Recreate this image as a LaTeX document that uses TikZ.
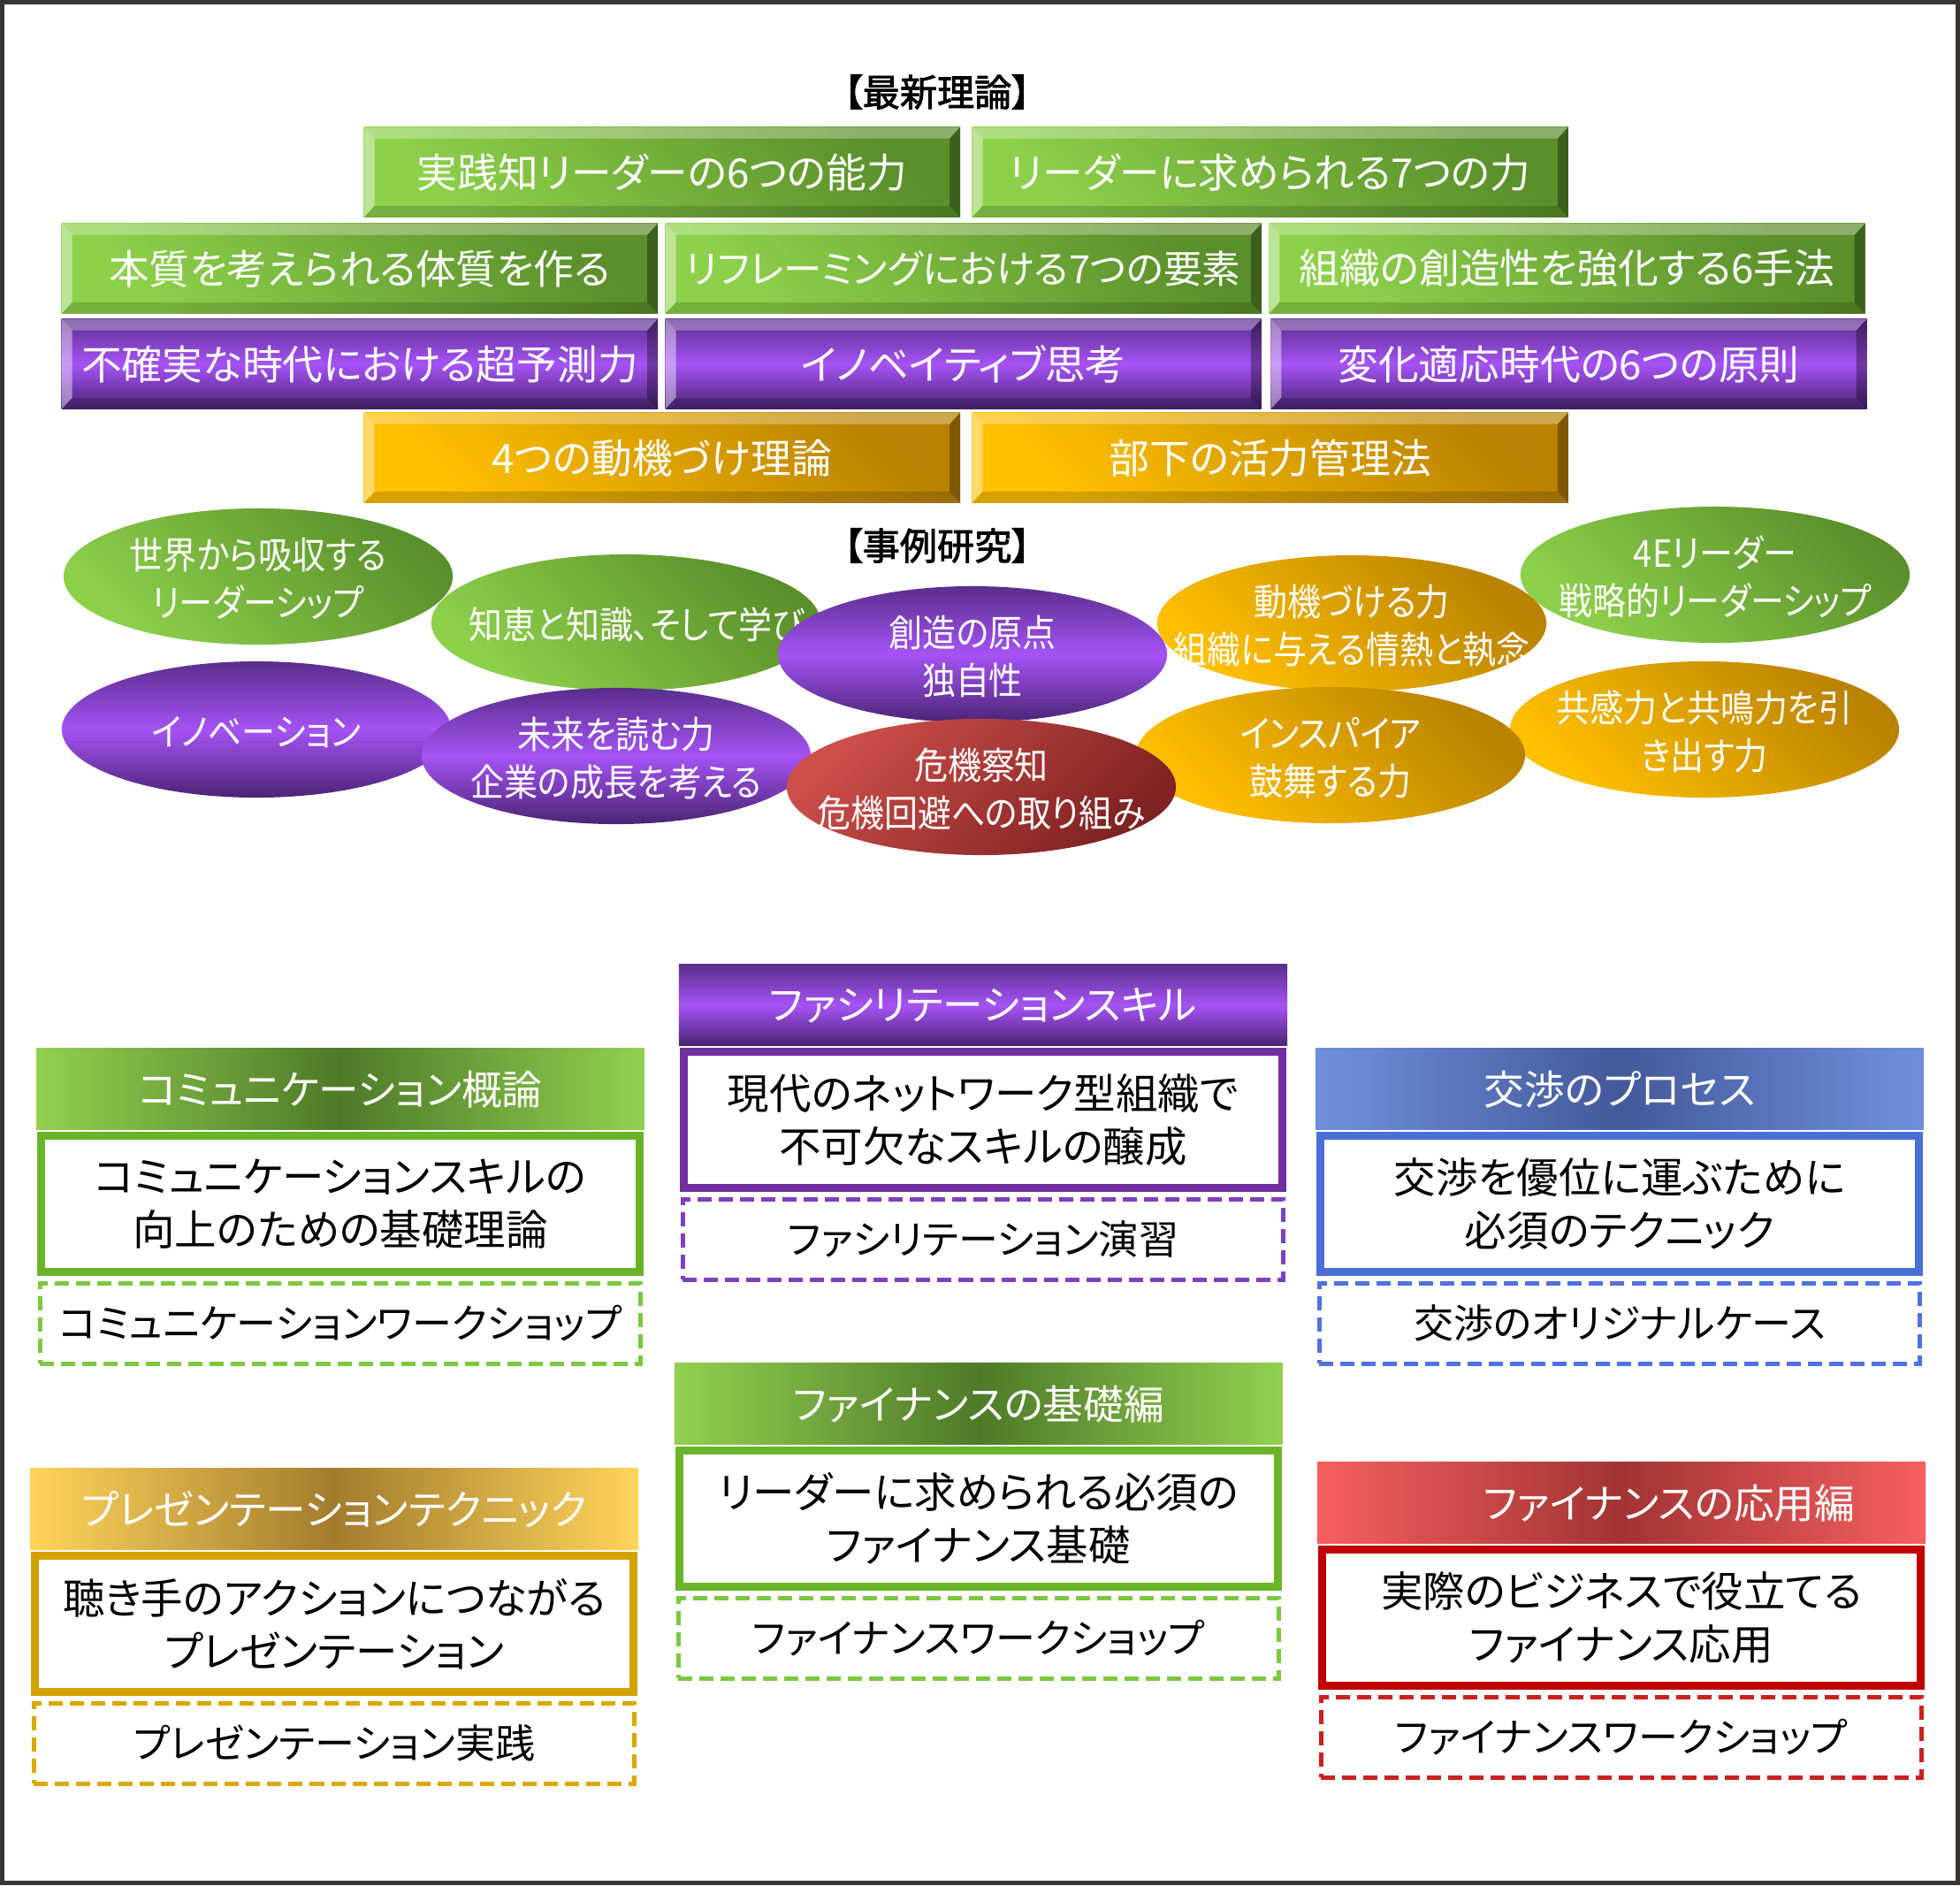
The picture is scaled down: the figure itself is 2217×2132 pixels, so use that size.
\documentclass[tikz,border=0pt]{standalone}
\usepackage{fontspec}
\setmainfont{Noto Sans CJK JP}[RawFeature=+palt]
\newfontfamily\jpbold{Noto Sans CJK JP}[RawFeature=+palt,FakeBold=2]
\newfontfamily\jpnarrow{Noto Sans CJK JP}[RawFeature=+palt,FakeStretch=0.9]
\usetikzlibrary{positioning,shapes.geometric}
\definecolor{grnlt}{HTML}{8DD14B}
\definecolor{grndk}{HTML}{5B8F2B}
\definecolor{purdk}{HTML}{5A2E8C}
\definecolor{purlt}{HTML}{A653F5}
\definecolor{purdkb}{HTML}{4A2474}
\definecolor{goldlt}{HTML}{FFC000}
\definecolor{golddk}{HTML}{B98200}
\definecolor{redlt}{HTML}{CD4F4A}
\definecolor{reddk}{HTML}{7E2222}
\definecolor{hgrnlt}{HTML}{92D050}
\definecolor{hgrndk}{HTML}{4F7A28}
\definecolor{hbluelt}{HTML}{7090DE}
\definecolor{hbluedk}{HTML}{44599A}
\definecolor{hgoldlt}{HTML}{FFD45A}
\definecolor{hgolddk}{HTML}{A27C2E}
\definecolor{hredlt}{HTML}{F65F5F}
\definecolor{hreddk}{HTML}{A23434}
\definecolor{cgreen}{HTML}{6AB42A}
\definecolor{cgreend}{HTML}{7CC841}
\definecolor{cpurple}{HTML}{7030A0}
\definecolor{cpurpled}{HTML}{7F3FBF}
\definecolor{cblue}{HTML}{4A70D8}
\definecolor{cblued}{HTML}{4F72E0}
\definecolor{cgold}{HTML}{D4A100}
\definecolor{cgoldd}{HTML}{DAA800}
\definecolor{cred}{HTML}{C00000}
\definecolor{credd}{HTML}{CC1F1F}
\definecolor{framegray}{HTML}{393734}

\newcommand\bevedge{%
  \coordinate (bNW) at (path picture bounding box.north west);
  \coordinate (bNE) at (path picture bounding box.north east);
  \coordinate (bSW) at (path picture bounding box.south west);
  \coordinate (bSE) at (path picture bounding box.south east);
  \fill[white,opacity=.30] (bNW) -- (bNE) -- ([shift={(-.12cm,-.13cm)}]bNE) -- ([shift={(.12cm,-.13cm)}]bNW) -- cycle;
  \fill[white,opacity=.42] (bNW) -- ([shift={(.12cm,-.13cm)}]bNW) -- ([shift={(.12cm,.13cm)}]bSW) -- (bSW) -- cycle;
  \fill[black,opacity=.32] (bNE) -- (bSE) -- ([shift={(-.12cm,.13cm)}]bSE) -- ([shift={(-.12cm,-.13cm)}]bNE) -- cycle;
  \fill[black,opacity=.16] (bSW) -- ([shift={(.12cm,.13cm)}]bSW) -- ([shift={(-.12cm,.13cm)}]bSE) -- (bSE) -- cycle;
}
% text of an oval, kept out of the shape's size
\newcommand\ovtext[1]{\makebox[0pt]{\raisebox{-0.08cm}[\height][\depth]{\begin{tabular}{@{}c@{}}#1\end{tabular}}}}

\begin{document}
\begin{tikzpicture}[x=0.01cm, y=-0.01cm,
  bev/.style={minimum width=6.74cm, minimum height=1.02cm, inner sep=0pt, anchor=north west, text=white, font=\fontsize{13}{15}\selectfont, path picture={\bevedge}},
  bgreen/.style={bev, top color=grndk, bottom color=grnlt, shading angle=-45},
  bpurple/.style={bev, top color=purdk, bottom color=purdkb, middle color=purlt},
  bgold/.style={bev, top color=golddk, bottom color=goldlt, shading angle=-45},
  oval/.style={ellipse, minimum width=4.4cm, minimum height=1.54cm, inner sep=0pt, text=white, font=\jpnarrow\fontsize{12}{15.4}\selectfont},
  ogreen/.style={oval, top color=grndk, bottom color=grnlt, shading angle=-45},
  opurple/.style={oval, top color=purdk, bottom color=purdkb, middle color=purlt},
  ored/.style={oval, top color=redlt, bottom color=reddk, shading angle=45},
  ogold/.style={oval, top color=golddk, bottom color=goldlt, shading angle=-45},
  sect/.style={font=\jpbold\fontsize{12}{14}\selectfont},
  hd/.style={minimum width=6.88cm, minimum height=0.92cm, inner sep=0pt, anchor=north, text=white, font=\fontsize{13}{15}\selectfont},
  body/.style={draw, line width=0.09cm, minimum width=6.77cm, minimum height=1.53cm, inner sep=0pt, align=center, font=\fontsize{13.5}{17}\selectfont},
  wk/.style={draw, dash pattern=on 0.16cm off 0.08cm, line width=0.05cm, minimum width=6.79cm, minimum height=0.91cm, inner sep=0pt, font=\fontsize{12.8}{15}\selectfont}
]
\useasboundingbox (0,0) rectangle (2217,2132);
\fill[white] (0,0) rectangle (2217,2132);

\node[sect] (theory) at (1060,104) {【最新理論】};
\node[bgreen] (r1a) at (411,143) {実践知リーダーの6つの能力};
\node[bgreen, right=0.12cm of r1a] (r1b) {リーダーに求められる7つの力};
\node[bgreen] (r2a) at (69,252) {本質を考えられる体質を作る};
\node[bgreen, right=0.07cm of r2a, font=\fontsize{12.4}{15}\selectfont] (r2b) {リフレーミングにおける7つの要素};
\node[bgreen, right=0.07cm of r2b] (r2c) {組織の創造性を強化する6手法};
\node[bpurple] (r3a) at (69,360) {不確実な時代における超予測力};
\node[bpurple, right=0.07cm of r3a] (r3b) {イノベイティブ思考};
\node[bpurple, right=0.09cm of r3b] (r3c) {変化適応時代の6つの原則};
\node[bgold] (r4a) at (411,466) {4つの動機づけ理論};
\node[bgold, right=0.12cm of r4a] (r4b) {部下の活力管理法};

\node[sect] (cases) at (1060,617) {【事例研究】};
\node[ogreen] (world) at (292,652) {\ovtext{世界から吸収する\\リーダーシップ}};
\node[ogreen] (wisdom) at (708,704) {\ovtext{\hspace*{0.25cm}知恵と知識、そして学び}};
\node[opurple] (innov) at (290,825) {\ovtext{イノベーション}};
\node[opurple] (future) at (697,855) {\ovtext{未来を読む力\\企業の成長を考える}};
\node[ogreen] (fourE) at (1940,650) {\ovtext{4Eリーダー\\戦略的リーダーシップ}};
\node[ogold] (motiv) at (1529,705) {\ovtext{動機づける力\\組織に与える情熱と執念}};
\node[ogold] (empath) at (1928,825) {\ovtext{共感力と共鳴力を引\\き出す力}};
\node[ogold] (inspire) at (1505,854) {\ovtext{インスパイア\\鼓舞する力}};
\node[opurple] (origin) at (1100,740) {\ovtext{創造の原点\\独自性}};
\node[ored] (crisis) at (1110,890) {\ovtext{危機察知\\危機回避への取り組み}};

\node[hd, left color=hgrnlt, right color=hgrnlt, middle color=hgrndk] (hcom) at (385,1185) {コミュニケーション概論};
\node[body, draw=cgreen, below=0.02cm of hcom] (bcom) {コミュニケーションスキルの\\向上のための基礎理論};
\node[wk, draw=cgreend, below=0.06cm of bcom] (wcom) {コミュニケーションワークショップ};

\node[hd, top color=purdk, bottom color=purdkb, middle color=purlt] (hfac) at (1112,1090) {ファシリテーションスキル};
\node[body, draw=cpurple, below=0.02cm of hfac] (bfac) {現代のネットワーク型組織で\\不可欠なスキルの醸成};
\node[wk, draw=cpurpled, below=0.06cm of bfac] (wfac) {ファシリテーション演習};

\node[hd, left color=hbluelt, right color=hbluelt, middle color=hbluedk] (hneg) at (1832,1185) {交渉のプロセス};
\node[body, draw=cblue, below=0.02cm of hneg] (bneg) {交渉を優位に運ぶために\\必須のテクニック};
\node[wk, draw=cblued, below=0.06cm of bneg] (wneg) {交渉のオリジナルケース};

\node[hd, left color=hgrnlt, right color=hgrnlt, middle color=hgrndk] (hfin) at (1107,1541) {ファイナンスの基礎編};
\node[body, draw=cgreen, below=0.02cm of hfin] (bfin) {リーダーに求められる必須の\\ファイナンス基礎};
\node[wk, draw=cgreend, below=0.06cm of bfin] (wfin) {ファイナンスワークショップ};

\node[hd, left color=hgoldlt, right color=hgoldlt, middle color=hgolddk] (hpre) at (378,1660) {プレゼンテーションテクニック};
\node[body, draw=cgold, below=0.02cm of hpre] (bpre) {聴き手のアクションにつながる\\プレゼンテーション};
\node[wk, draw=cgoldd, below=0.06cm of bpre] (wpre) {プレゼンテーション実践};

\node[hd, left color=hredlt, right color=hredlt, middle color=hreddk] (hadv) at (1834,1653) {\hspace*{1.08cm}ファイナンスの応用編};
\node[body, draw=cred, below=0.02cm of hadv] (badv) {実際のビジネスで役立てる\\ファイナンス応用};
\node[wk, draw=credd, below=0.06cm of badv] (wadv) {ファイナンスワークショップ};

\draw[framegray, line width=0.05cm] (2.5,2.5) rectangle (2214.5,2129.5);
\end{tikzpicture}
\end{document}
